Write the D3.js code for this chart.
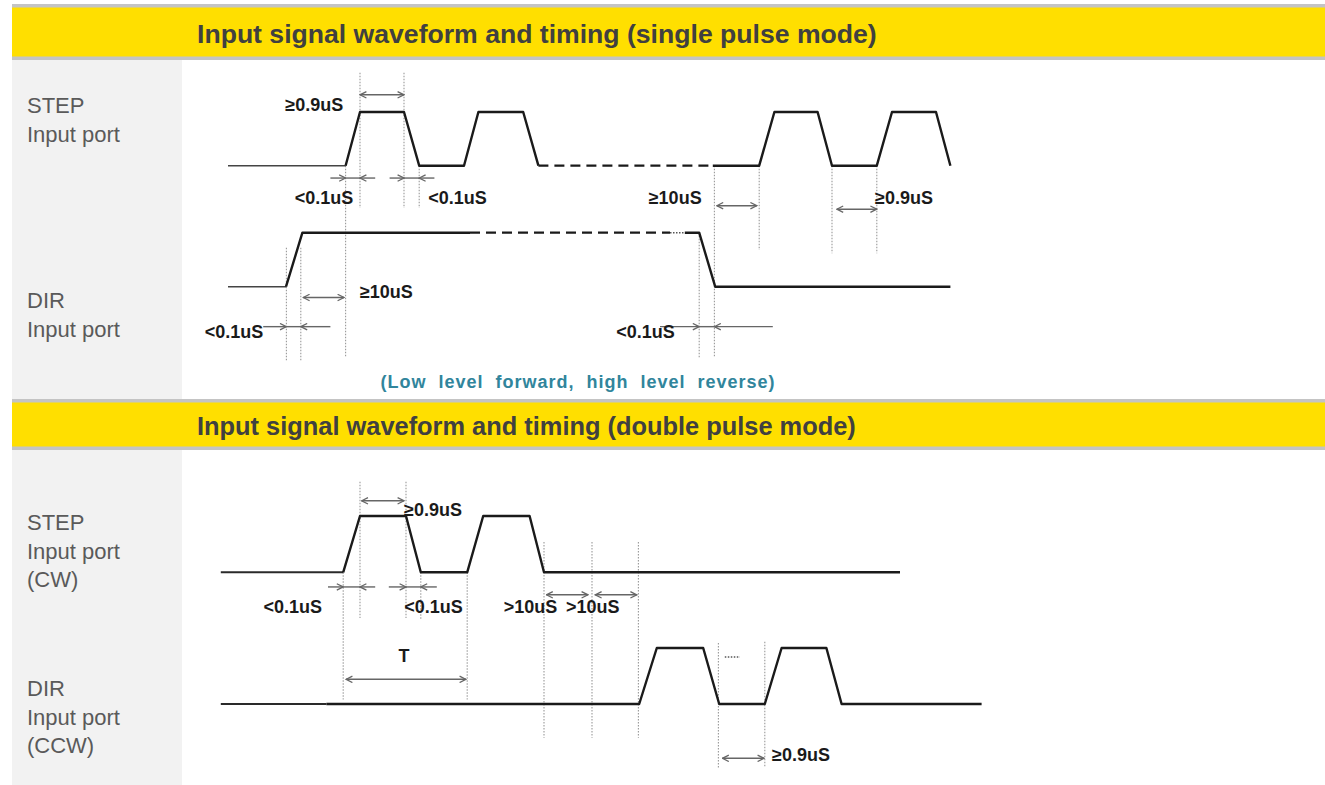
<!DOCTYPE html>
<html>
<head>
<meta charset="utf-8">
<script src="https://cdn.jsdelivr.net/npm/d3@7"></script>
<style>
  body { margin: 0; background: #fff; }
  svg { display: block; font-family: "Liberation Sans", Arial, sans-serif; }
</style>
</head>
<body>
<div id="chart"></div>
<script>
// ---------- data ----------
const sectionTitles = [
  "Input signal waveform and timing (single pulse mode)",
  "Input signal waveform and timing (double pulse mode)"
];
const portLabels = [
  ["STEP", "Input port"],
  ["DIR", "Input port"],
  ["STEP", "Input port", "(CW)"],
  ["DIR", "Input port", "(CCW)"]
];
const footnote = "(Low level forward, high level reverse)";

// waveforms: [style, [[time, level], ...]]  (level 0 = low, 1 = high)
const stepSingle = [
  ["lead", [[3.5, 0], [18.2, 0]]],
  ["solid", [[18.2, 0], [20.0, 1], [25.5, 1], [27.4, 0], [33.0, 0], [34.8, 1], [40.4, 1], [42.3, 0]]],
  ["dash", [[42.3, 0], [64.1, 0]]],
  ["solid", [[64.1, 0], [69.9, 0], [71.8, 1], [77.2, 1], [79.0, 0], [84.6, 0], [86.5, 1], [92.0, 1], [93.8, 0]]]
];
const dirSingle = [
  ["lead", [[3.5, 0], [10.75, 0]]],
  ["solid", [[10.75, 0], [12.8, 1], [33.75, 1]]],
  ["dash", [[33.75, 1], [58.75, 1]]],
  ["dot", [[58.75, 1], [60.6, 1]]],
  ["solid", [[60.6, 1], [62.4, 1], [64.4, 0], [93.8, 0]]]
];
const stepDouble = [
  ["lead2", [[2.6, 0], [17.9, 0]]],
  ["solid", [[17.9, 0], [20.0, 1], [25.75, 1], [27.6, 0], [33.4, 0], [35.4, 1], [41.2, 1], [43.0, 0], [87.5, 0]]]
];
const dirDouble = [
  ["lead2", [[2.6, 0], [15.8, 0]]],
  ["solid", [[15.8, 0], [54.9, 0], [57.1, 1], [62.9, 1], [64.9, 0], [70.6, 0], [72.7, 1], [78.3, 1], [80.2, 0], [97.7, 0]]],
  ["dot", [[65.6, 0.84], [67.5, 0.84]]]
];
const waves = [stepSingle, dirSingle, stepDouble, dirDouble];

// dotted guide lines: [row, time, levelFrom, levelTo]
const guides = [
  [0, 20.0, 1.73, -0.79], [0, 25.5, 1.73, -0.79], [0, 18.2, 0, -3.56], [0, 27.4, 0, -0.79],
  [0, 64.3, 0, -3.56], [0, 69.9, 0, -1.57], [0, 79.0, 0, -1.63], [0, 84.6, 0, -1.63],
  [1, 10.8, 0.72, -1.36], [1, 12.6, 0.72, -1.36], [1, 62.4, 1, -1.32],
  [2, 20.0, 1.61, -0.81], [2, 25.75, 1.61, -0.81], [2, 17.9, 0, -2.26], [2, 27.6, 0, -0.84],
  [2, 33.4, 0, -2.26], [2, 43.0, 0.54, -2.94], [2, 49.0, 0.54, -2.94], [2, 54.8, 0.54, -2.94],
  [3, 64.8, 1.09, -1.14], [3, 70.6, 1.11, -1.14]
];

// double headed spans: [row, t0, t1, level]
const spans = [
  [0, 20.0, 25.5, 1.32], [0, 64.6, 69.6, -0.745], [0, 79.6, 84.6, -0.81],
  [1, 12.9, 18.0, -0.20],
  [2, 20.2, 25.5, 1.27], [2, 43.3, 48.5, -0.40], [2, 49.4, 54.6, -0.40],
  [3, 18.25, 33.25, 0.44], [3, 65.3, 70.5, -0.97]
];

// inward arrows (edge times): [row, tLeft, t0, t1, tRight, level]
const pinches = [
  [0, 16.3, 18.2, 20.0, 21.9, -0.23], [0, 23.7, 25.5, 27.4, 29.3, -0.23],
  [1, 7.9, 10.8, 12.6, 16.3, -0.74], [1, 57.5, 62.4, 64.3, 71.6, -0.74],
  [2, 16.0, 17.9, 20.0, 21.9, -0.26], [2, 23.6, 25.75, 27.6, 29.6, -0.26]
];

// timing notes: [row, time, level, text, anchor]
const notes = [
  [0, 17.9, 1.13, "≥0.9uS", "end"],
  [0, 15.5, -0.60, "<0.1uS", "middle"],
  [0, 32.2, -0.60, "<0.1uS", "middle"],
  [0, 59.4, -0.60, "≥10uS", "middle"],
  [0, 88.0, -0.60, "≥0.9uS", "middle"],
  [1, 23.3, -0.09, "≥10uS", "middle"],
  [1, 4.25, -0.83, "<0.1uS", "middle"],
  [1, 55.7, -0.83, "<0.1uS", "middle"],
  [2, 25.5, 1.11, "≥0.9uS", "start"],
  [2, 11.6, -0.62, "<0.1uS", "middle"],
  [2, 29.2, -0.62, "<0.1uS", "middle"],
  [2, 41.3, -0.62, ">10uS", "middle"],
  [2, 49.1, -0.62, ">10uS", "middle"],
  [3, 25.5, 0.86, "T", "middle"],
  [3, 71.5, -0.91, "≥0.9uS", "start"]
];

// ---------- layout ----------
const W = 1325, H = 785;
const sections = [
  { band: [4, 60], panel: [60, 399], titleY: 34, titleSize: 26.6, labels: [{ i: 0, y: 105 }, { i: 1, y: 300 }] },
  { band: [399, 450], panel: [450, 785], titleY: 426, titleSize: 25.4, labels: [{ i: 2, y: 522 }, { i: 3, y: 688 }] }
];
const rowLayout = [
  { low: 165.7, high: 112 },
  { low: 286.7, high: 232.7 },
  { low: 572.3, high: 516 },
  { low: 704, high: 648 }
];

const svg = d3.select("#chart").append("svg")
  .attr("width", W).attr("height", H);

const x = d3.scaleLinear().domain([0, 100]).range([200, 1000]);
const ys = rowLayout.map(r => d3.scaleLinear().domain([0, 1]).range([r.low, r.high]));

// arrow marker
const defs = svg.append("defs");
defs.append("marker")
  .attr("id", "arr")
  .attr("viewBox", "0 0 10 10")
  .attr("refX", 9).attr("refY", 5)
  .attr("markerWidth", 8).attr("markerHeight", 8)
  .attr("markerUnits", "userSpaceOnUse")
  .attr("orient", "auto-start-reverse")
  .append("path")
  .attr("d", "M1,1 L9,5 L1,9")
  .attr("fill", "none")
  .attr("stroke", "#666")
  .attr("stroke-width", 1.6);

// section bands, panels, titles
sections.forEach((s, k) => {
  svg.append("rect")
    .attr("x", 12).attr("y", s.band[0]).attr("width", W - 12).attr("height", s.band[1] - s.band[0])
    .attr("fill", "#c4c4c4");
  svg.append("rect")
    .attr("x", 12).attr("y", s.band[0] + 3.5).attr("width", W - 12).attr("height", s.band[1] - s.band[0] - 7)
    .attr("fill", "#ffdf00");
  svg.append("rect")
    .attr("x", 12).attr("y", s.panel[0]).attr("width", 170).attr("height", s.panel[1] - s.panel[0])
    .attr("fill", "#f2f2f2");
  svg.append("text")
    .attr("x", 197).attr("y", s.titleY)
    .attr("dominant-baseline", "central")
    .attr("font-size", s.titleSize).attr("font-weight", "bold")
    .attr("fill", "#404040")
    .text(sectionTitles[k]);

  s.labels.forEach(l => {
    const t = svg.append("text")
      .attr("x", 27).attr("y", l.y)
      .attr("dominant-baseline", "central")
      .attr("font-size", 22).attr("fill", "#5a5a5a");
    portLabels[l.i].forEach((line, j) => {
      t.append("tspan").attr("x", 27).attr("y", l.y + j * 28.5).text(line);
    });
  });
});

// guides
const g = svg.append("g");
g.selectAll(".guide")
  .data(guides)
  .enter().append("line")
  .attr("class", "guide")
  .attr("x1", d => x(d[1])).attr("x2", d => x(d[1]))
  .attr("y1", d => ys[d[0]](d[2])).attr("y2", d => ys[d[0]](d[3]))
  .attr("stroke", "#999").attr("stroke-width", 1.1)
  .attr("stroke-dasharray", "1.5,1.5");

// waveforms
const styles = {
  solid: { stroke: "#1a1a1a", width: 2.4, dash: null },
  lead: { stroke: "#444", width: 1.6, dash: null },
  lead2: { stroke: "#2a2a2a", width: 2.0, dash: null },
  dash: { stroke: "#1a1a1a", width: 2.2, dash: "10,6" },
  dot: { stroke: "#555", width: 1.5, dash: "1.5,1.5" }
};
waves.forEach((wave, r) => {
  const line = d3.line().x(d => x(d[0])).y(d => ys[r](d[1]));
  g.selectAll(".seg" + r)
    .data(wave)
    .enter().append("path")
    .attr("class", "seg" + r)
    .attr("d", d => line(d[1]))
    .attr("fill", "none")
    .attr("stroke", d => styles[d[0]].stroke)
    .attr("stroke-width", d => styles[d[0]].width)
    .attr("stroke-dasharray", d => styles[d[0]].dash)
    .attr("stroke-linejoin", "round");
});

// double headed spans
g.selectAll(".span")
  .data(spans)
  .enter().append("line")
  .attr("class", "span")
  .attr("x1", d => x(d[1])).attr("x2", d => x(d[2]))
  .attr("y1", d => ys[d[0]](d[3])).attr("y2", d => ys[d[0]](d[3]))
  .attr("stroke", "#666").attr("stroke-width", 1.5)
  .attr("marker-start", "url(#arr)").attr("marker-end", "url(#arr)");

// inward arrows
pinches.forEach(p => {
  const y = ys[p[0]](p[5]);
  [[p[1], p[2], true], [p[4], p[3], true], [p[2], p[3], false]].forEach(s => {
    g.append("line")
      .attr("x1", x(s[0])).attr("x2", x(s[1]))
      .attr("y1", y).attr("y2", y)
      .attr("stroke", "#666").attr("stroke-width", 1.4)
      .attr("marker-end", s[2] ? "url(#arr)" : null);
  });
});

// timing notes
g.selectAll(".note")
  .data(notes)
  .enter().append("text")
  .attr("class", "note")
  .attr("x", d => x(d[1]))
  .attr("y", d => ys[d[0]](d[2]))
  .attr("text-anchor", d => d[4])
  .attr("dominant-baseline", "central")
  .attr("font-size", 18).attr("font-weight", "bold")
  .attr("fill", "#1a1a1a")
  .text(d => d[3]);

// footnote
svg.append("text")
  .attr("x", 578).attr("y", 382)
  .attr("text-anchor", "middle")
  .attr("dominant-baseline", "central")
  .attr("font-size", 18).attr("font-weight", "bold")
  .attr("letter-spacing", 1).attr("word-spacing", 6)
  .attr("fill", "#31859c")
  .text(footnote);
</script>
</body>
</html>
